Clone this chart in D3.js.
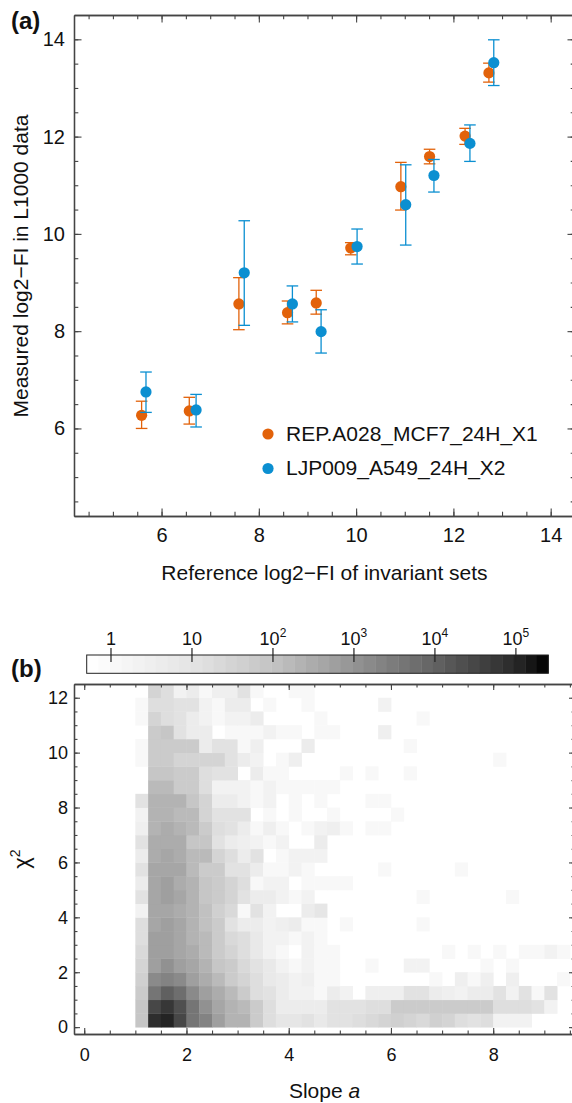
<!DOCTYPE html>
<html>
<head>
<meta charset="utf-8">
<script src="https://cdn.jsdelivr.net/npm/d3@7"></script>
<style>
body { margin: 0; background: #fff; }
svg { font-family: "Liberation Sans", Arial, Helvetica, sans-serif; fill: #111; }
.axis .domain { stroke: #444; stroke-width: 1.3; }
.axis .tick line { stroke: #444; stroke-width: 1.1; }
.axis text { fill: #111; }
</style>
</head>
<body>
<svg width="572" height="1103"></svg>
<script>
// ---- panel (a) data ----
var seriesNames = ['REP.A028_MCF7_24H_X1', 'LJP009_A549_24H_X2'];
var seriesColors = ['#e2620a', '#0b8fd1'];

var repRef  = [5.59, 6.57, 7.59, 8.59, 9.18, 9.89, 10.92, 11.51, 12.24, 12.73];
var repMeas = [6.27, 6.36, 8.56, 8.38, 8.58, 9.71, 10.97, 11.59, 12.01, 13.31];
var repLo   = [6.00, 6.09, 8.03, 8.15, 8.35, 9.57, 10.49, 11.44, 11.84, 13.12];
var repHi   = [6.56, 6.64, 9.10, 8.62, 8.84, 9.82, 11.47, 11.74, 12.17, 13.51];

var ljpRef  = [5.68, 6.71, 7.70, 8.69, 9.28, 10.02, 11.02, 11.60, 12.34, 12.83];
var ljpMeas = [6.75, 6.38, 9.20, 8.56, 7.99, 9.74, 10.60, 11.20, 11.86, 13.52];
var ljpLo   = [6.33, 6.03, 8.12, 8.19, 7.55, 9.38, 9.77, 10.86, 11.49, 13.05];
var ljpHi   = [7.16, 6.70, 10.27, 8.93, 8.44, 10.10, 11.42, 11.53, 12.24, 13.99];

var topXTicks = [6, 8, 10, 12, 14];
var topYTicks = [6, 8, 10, 12, 14];

// ---- panel (b) data: counts per (chi2 row, slope column) bin ----
var slopeStart = 1.0, slopeStep = 0.25, chi2Start = 0, chi2Step = 0.5;
var chi2Counts = [
  [95, 72000, 115000, 27000, 4600, 2150, 600, 250, 210, 55, 14, 8, 8, 10, 6, 12, 10, 18, 25, 31, 40, 35, 25, 40, 35, 18, 12, 18, 2, 2, 2],
  [95, 30000, 55000, 25000, 4600, 1000, 460, 210, 140, 55, 18, 4, 4, 4, 4, 10, 10, 10, 18, 18, 55, 55, 55, 55, 55, 55, 55, 55, 18, 18, 18, 10, 2],
  [55, 4600, 10000, 6700, 1480, 680, 310, 140, 55, 18, 10, 4, 2, 2, 1, 4, 2, 0, 3, 3, 3, 10, 10, 4, 3, 2, 4, 4, 10, 2, 10, 1, 10],
  [40, 1480, 2150, 1480, 680, 310, 140, 55, 31, 18, 6, 4, 2, 3, 1, 1, 0, 0, 0, 0, 0, 0, 0, 1, 0, 3, 1, 3, 0, 3, 0, 0, 0, 1],
  [31, 680, 1000, 680, 400, 210, 95, 55, 25, 10, 6, 2, 1, 2, 1, 1, 0, 0, 1, 0, 0, 2, 2, 0, 0, 0, 0, 1, 0, 1],
  [25, 600, 680, 460, 310, 150, 65, 31, 14, 6, 2, 1, 0, 2, 1, 1, 0, 0, 0, 0, 0, 0, 0, 0, 1, 0, 1, 0, 1, 0, 1, 1, 2, 1],
  [18, 500, 680, 460, 250, 140, 55, 25, 14, 6, 2, 2, 1, 2, 1],
  [18, 460, 500, 460, 210, 110, 55, 12, 4, 4, 2, 3, 4, 1, 1, 0, 1, 0, 0, 0, 0, 0, 1],
  [2, 400, 460, 310, 210, 110, 40, 25, 1, 10, 2, 0, 0, 4, 8],
  [10, 460, 550, 400, 210, 95, 55, 31, 10, 4, 4, 2, 1, 2, 0, 0, 0, 0, 0, 0, 0, 0, 1, 0, 0, 0, 0, 0, 0, 1],
  [4, 400, 500, 310, 210, 95, 55, 31, 18, 1, 2, 2, 0, 1, 1, 1, 1],
  [10, 360, 460, 360, 170, 55, 55, 10, 10, 4, 1, 1, 2, 1, 0, 0, 0, 0, 0, 1, 0, 0, 0, 0, 0, 1],
  [4, 310, 400, 310, 140, 140, 31, 18, 4, 10, 0, 1, 2, 2, 2],
  [10, 310, 310, 310, 95, 95, 10, 4, 3, 2, 1, 2, 0, 0, 4],
  [3, 210, 310, 210, 140, 55, 18, 10, 4, 1, 3, 1, 0, 1, 2, 3, 1, 0, 1, 1],
  [2, 210, 210, 140, 140, 31, 10, 10, 10, 0, 1, 0, 1, 0, 0, 1, 0, 0, 0, 0, 1],
  [10, 210, 210, 210, 95, 31, 4, 4, 2, 1, 2, 0, 1, 0, 1, 0, 0, 0, 1, 1],
  [0, 140, 140, 55, 55, 18, 2, 2, 2, 1, 2, 1, 1, 1, 1, 1],
  [0, 95, 95, 55, 55, 18, 10, 10, 0, 4, 1, 1, 0, 0, 0, 0, 1, 0, 1, 0, 0, 1],
  [1, 55, 55, 31, 31, 31, 31, 10, 4, 2, 0, 1, 3, 0, 0, 0, 0, 0, 0, 0, 0, 0, 0, 0, 0, 0, 0, 0, 1],
  [1, 55, 55, 55, 55, 4, 10, 10, 1, 3, 0, 0, 0, 4, 0, 0, 0, 0, 0, 0, 0, 1],
  [0, 55, 95, 10, 4, 4, 0, 1, 1, 1, 2, 1, 1, 0, 1, 1, 0, 0, 0, 3],
  [1, 31, 18, 10, 4, 2, 1, 2, 2, 4, 0, 0, 0, 0, 1, 0, 0, 0, 0, 0, 0, 0, 1],
  [1, 18, 18, 10, 10, 2, 1, 4, 4, 0, 1, 0, 0, 1, 0, 0, 0, 0, 0, 2],
  [0, 31, 18, 2, 4, 1, 3, 3, 10, 1, 0, 0, 1, 1]
];

var botXTicks = [0, 2, 4, 6, 8];
var botYTicks = [0, 2, 4, 6, 8, 10, 12];
var cbTickExps = [0, 1, 2, 3, 4, 5];   // colorbar ticks, log10 of count

var svg = d3.select('svg');

// scales
var xTop = d3.scaleLinear().domain([4.2, 14.5]).range([74, 575]);
var yTop = d3.scaleLinear().domain([4.2, 14.5]).range([516, 15]);
var xBot = d3.scaleLinear().domain([-0.2, 9.6]).range([74, 575]);
var yBot = d3.scaleLinear().domain([-0.25, 12.5]).range([1034, 684]);
var cbX = d3.scaleLinear().domain([-0.3, 5.4]).range([86.7, 548.3]);

// gray ramp of the colorbar (log10 count -> lightness), stepped
var grayAt = d3.scaleLinear()
    .domain([-0.3, 0, 1, 2, 3, 4, 5, 5.4])
    .range([1.0, 0.976, 0.895, 0.765, 0.58, 0.385, 0.16, 0.0])
    .clamp(true);
var nSteps = 40;
function shade(logv) {
    var lo = cbX.domain()[0], hi = cbX.domain()[1];
    var k = Math.floor((logv - lo) / (hi - lo) * nSteps);
    k = Math.max(0, Math.min(nSteps - 1, k));
    var g = Math.round(255 * grayAt(lo + (k + 0.5) * (hi - lo) / nSteps));
    return d3.rgb(g, g, g).toString();
}

// draws the boxed frame with inward ticks on all four sides
function drawFrame(x, y, opt) {
    var xr = x.range(), yr = y.range();
    var g = svg.append('g');
    function axis(gen, tx, ty, vals, len, labels, pad) {
        var a = gen.tickValues(vals).tickSizeInner(-len).tickSizeOuter(0).tickPadding(pad || 3);
        if (!labels) a.tickFormat('');
        var ag = g.append('g').attr('class', 'axis')
            .attr('transform', 'translate(' + [tx, ty] + ')')
            .call(a);
        ag.selectAll('text').style('font-size', opt.fs + 'px').style('font-family', null);
        return ag;
    }
    // minor
    axis(d3.axisBottom(x), 0, yr[0], opt.xMinor, opt.minor);
    axis(d3.axisTop(x), 0, yr[1], opt.xMinor, opt.minor);
    axis(d3.axisLeft(y), xr[0], 0, opt.yMinor, opt.minor);
    axis(d3.axisRight(y), xr[1], 0, opt.yMinor, opt.minor);
    // major
    axis(d3.axisBottom(x), 0, yr[0], opt.xMajor, opt.major, true, opt.xPad);
    axis(d3.axisTop(x), 0, yr[1], opt.xMajor, opt.major);
    axis(d3.axisLeft(y), xr[0], 0, opt.yMajor, opt.major, true, opt.yPad);
    axis(d3.axisRight(y), xr[1], 0, opt.yMajor, opt.major);
}

// ================= panel (a) =================
var series = [
    {x: repRef, y: repMeas, lo: repLo, hi: repHi},
    {x: ljpRef, y: ljpMeas, lo: ljpLo, hi: ljpHi}
];

drawFrame(xTop, yTop, {
    xMajor: topXTicks, yMajor: topYTicks,
    xMinor: d3.range(4.5, 14.5, 0.5), yMinor: d3.range(4.5, 14.5, 0.5),
    major: 7.5, minor: 4.3, fs: 20, xPad: 12, yPad: 9
});

var capW = 5.8;
series.forEach(function(s, si) {
    var pts = s.x.map(function(v, i) {
        return {x: v, y: s.y[i], lo: s.lo[i], hi: s.hi[i]};
    });
    var g = svg.append('g').attr('class', 'series-' + si);
    var bars = g.selectAll('.err').data(pts).enter().append('g').attr('class', 'err')
        .attr('stroke', seriesColors[si]).attr('stroke-width', 1.3);
    bars.append('line')
        .attr('x1', function(d) { return xTop(d.x); })
        .attr('x2', function(d) { return xTop(d.x); })
        .attr('y1', function(d) { return yTop(d.lo); })
        .attr('y2', function(d) { return yTop(d.hi); });
    ['lo', 'hi'].forEach(function(k) {
        bars.append('line')
            .attr('x1', function(d) { return xTop(d.x) - capW; })
            .attr('x2', function(d) { return xTop(d.x) + capW; })
            .attr('y1', function(d) { return yTop(d[k]); })
            .attr('y2', function(d) { return yTop(d[k]); });
    });
    g.selectAll('.dot').data(pts).enter().append('circle')
        .attr('class', 'dot')
        .attr('cx', function(d) { return xTop(d.x); })
        .attr('cy', function(d) { return yTop(d.y); })
        .attr('r', 5.6)
        .attr('fill', seriesColors[si]);
});

// legend
var legend = svg.append('g').attr('transform', 'translate(268,434)');
seriesNames.forEach(function(name, i) {
    var row = legend.append('g').attr('transform', 'translate(0,' + (i * 34.5) + ')');
    row.append('circle').attr('r', 5.6).attr('fill', seriesColors[i]);
    row.append('text').attr('x', 18).attr('y', 6.5)
        .style('font-size', '21px').text(name);
});

svg.append('text')
    .attr('x', 324.5).attr('y', 580)
    .attr('text-anchor', 'middle')
    .style('font-size', '21px')
    .text('Reference log2\u2212FI of invariant sets');

svg.append('text')
    .attr('transform', 'translate(28,266)rotate(-90)')
    .attr('text-anchor', 'middle')
    .style('font-size', '21px')
    .text('Measured log2\u2212FI in L1000 data');

svg.append('text').attr('x', 11).attr('y', 29)
    .style('font-size', '24px').style('font-weight', 'bold').text('(a)');

// ================= panel (b) =================
var cells = [];
chi2Counts.forEach(function(row, r) {
    row.forEach(function(n, c) {
        if (n > 0) cells.push({r: r, c: c, n: n});
    });
});

svg.append('clipPath').attr('id', 'heatclip')
    .append('rect')
    .attr('x', xBot.range()[0]).attr('y', yBot.range()[1])
    .attr('width', xBot.range()[1] - xBot.range()[0])
    .attr('height', yBot.range()[0] - yBot.range()[1]);

svg.append('g').attr('clip-path', 'url(#heatclip)')
    .selectAll('.cell').data(cells).enter().append('rect')
    .attr('class', 'cell')
    .attr('x', function(d) { return xBot(slopeStart + d.c * slopeStep); })
    .attr('y', function(d) { return yBot(chi2Start + (d.r + 1) * chi2Step); })
    .attr('width', function(d) { return xBot(slopeStart + (d.c + 1) * slopeStep) - xBot(slopeStart + d.c * slopeStep) + 0.4; })
    .attr('height', function(d) { return yBot(chi2Start + d.r * chi2Step) - yBot(chi2Start + (d.r + 1) * chi2Step) + 0.4; })
    .attr('fill', function(d) { return shade(Math.log10(d.n)); });

drawFrame(xBot, yBot, {
    xMajor: botXTicks, yMajor: botYTicks,
    xMinor: d3.range(0, 9.6, 0.5), yMinor: d3.range(0, 12.5, 0.5),
    major: 6, minor: 3.5, fs: 18, xPad: 14, yPad: 6
});

// colorbar
var cb = svg.append('g');
var lo = cbX.domain()[0], hi = cbX.domain()[1];
var steps = d3.range(nSteps).map(function(k) { return lo + k * (hi - lo) / nSteps; });
cb.selectAll('.step').data(steps).enter().append('rect')
    .attr('class', 'step')
    .attr('x', function(d) { return cbX(d); })
    .attr('y', 655)
    .attr('width', (cbX(hi) - cbX(lo)) / nSteps + 0.4)
    .attr('height', 18.3)
    .attr('fill', function(d) { return shade(d + 0.5 * (hi - lo) / nSteps); });
cb.append('rect')
    .attr('x', cbX(lo)).attr('y', 655)
    .attr('width', cbX(hi) - cbX(lo)).attr('height', 18.3)
    .attr('fill', 'none').attr('stroke', '#222').attr('stroke-width', 1);

var cbt = cb.selectAll('.cbtick').data(cbTickExps).enter().append('g')
    .attr('class', 'cbtick')
    .attr('transform', function(d) { return 'translate(' + cbX(d) + ',0)'; });
cbt.append('line').attr('y1', 648).attr('y2', 662)
    .attr('stroke', '#222').attr('stroke-width', 1.2);
var cbText = cbt.append('text').attr('y', 645)
    .attr('text-anchor', 'middle').style('font-size', '18px');
cbText.append('tspan').text(function(d) { return d === 0 ? '1' : '10'; });
cbText.filter(function(d) { return d > 1; }).append('tspan')
    .attr('dy', -8).style('font-size', '12px')
    .text(function(d) { return d; });

svg.append('text')
    .attr('x', 324.5).attr('y', 1098)
    .attr('text-anchor', 'middle')
    .style('font-size', '21px')
    .text('Slope ')
    .append('tspan').style('font-style', 'italic').text('a');

var chi = svg.append('text')
    .attr('transform', 'translate(29,859)rotate(-90)')
    .attr('text-anchor', 'middle')
    .style('font-size', '22px');
chi.append('tspan').text('\u03c7');
chi.append('tspan').attr('dy', -9).style('font-size', '14px').text('2');

svg.append('text').attr('x', 11).attr('y', 677)
    .style('font-size', '24px').style('font-weight', 'bold').text('(b)');
</script>
</body>
</html>
